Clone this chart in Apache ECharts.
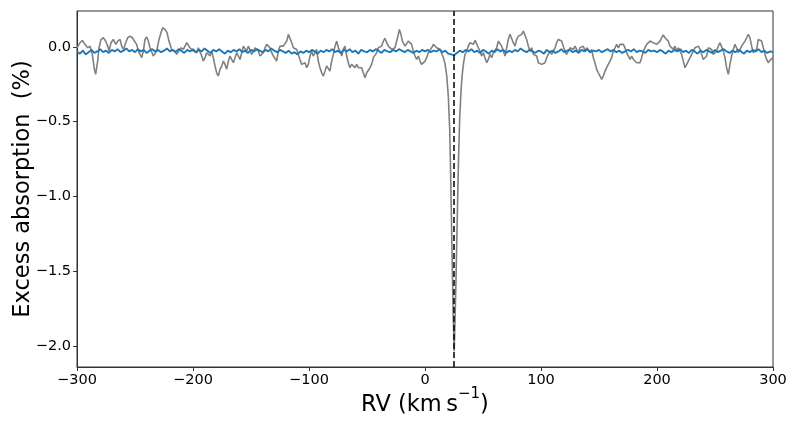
<!DOCTYPE html>
<html>
<head>
<meta charset="utf-8">
<script src="https://cdn.jsdelivr.net/npm/echarts@6/dist/echarts.min.js"></script>
<style>html,body{margin:0;padding:0;background:#fff}#c{width:800px;height:425px}</style>
</head>
<body>
<div id="c"></div>
<script>
// ---- data ----
const xTicks = [-300, -200, -100, 0, 100, 200, 300];
const yTicks = [-2.0, -1.5, -1.0, -0.5, 0.0];
const lineCenterRV = 25.2;

// gray: observed excess absorption [RV, %]
const grayPoints = [
[-300,-0.006],[-298.8,-0.006],[-297.4,0.028],[-295.4,0.043],[-293.1,0.017],[-290.8,-0.006],[-288.8,0.005],[-286.8,-0.050],[-285.0,-0.150],[-283.9,-0.184],
[-282.2,-0.095],[-281.0,-0.006],[-279.3,0.050],[-277.3,0.061],[-275.3,0.039],[-273.5,0.005],[-272.4,-0.028],[-270.7,0.028],[-268.7,0.050],[-266.6,0.017],
[-264.9,0.039],[-262.9,0.050],[-261.5,0.005],[-260.0,-0.017],[-258.0,0.028],[-256.3,0.061],[-254.3,0.072],[-252.3,0.061],[-250.6,0.072],[-248.6,0.017],
[-247.1,-0.028],[-245.7,-0.050],[-244.2,-0.072],[-242.8,-0.028],[-241.4,0.050],[-239.9,0.066],[-238.5,0.039],[-237.1,-0.006],[-235.6,-0.017],[-234.2,-0.061],
[-232.7,-0.072],[-231.3,-0.028],[-229.3,0.050],[-227.6,0.095],[-226.1,0.128],[-224.1,0.117],[-222.4,0.095],[-220.7,0.039],[-218.4,-0.017],[-217.0,-0.028],
[-215.5,-0.028],[-214.1,-0.050],[-212.6,-0.039],[-210.3,-0.006],[-208.3,-0.017],[-206.9,0.005],[-205.4,0.028],[-204.0,0.017],[-202.6,-0.006],[-201.1,0.005],
[-199.7,-0.028],[-198.3,-0.017],[-196.8,-0.039],[-195.4,-0.006],[-194.0,-0.017],[-192.5,-0.061],[-191.1,-0.095],[-189.6,-0.072],[-188.2,-0.039],[-186.8,-0.050],
[-185.3,-0.061],[-183.9,-0.028],[-182.5,-0.072],[-181.0,-0.128],[-179.6,-0.173],[-178.2,-0.195],[-176.7,-0.150],[-175.3,-0.128],[-173.8,-0.095],[-172.4,-0.117],
[-171.0,-0.150],[-169.5,-0.095],[-168.1,-0.061],[-166.7,-0.072],[-165.2,-0.106],[-163.8,-0.072],[-162.3,-0.039],[-160.9,-0.050],[-159.5,-0.084],[-158.0,-0.039],
[-156.6,0.005],[-155.2,-0.006],[-153.7,-0.028],[-152.3,0.005],[-150.9,-0.006],[-149.4,-0.050],[-148.0,-0.039],[-146.5,-0.006],[-145.1,0.005],[-143.7,-0.028],
[-142.2,-0.061],[-140.8,-0.072],[-139.4,-0.039],[-137.9,-0.006],[-136.5,0.017],[-135.1,0.028],[-133.6,-0.006],[-132.2,-0.039],[-130.7,-0.061],[-129.3,-0.072],
[-127.9,-0.095],[-126.4,-0.028],[-125.0,0.005],[-123.6,-0.006],[-122.1,0.005],[-120.7,0.017],[-119.2,0.039],[-117.8,0.084],[-116.4,0.072],[-114.9,0.028],
[-113.5,-0.006],[-112.1,0.005],[-110.6,-0.017],[-109.2,-0.050],[-107.8,-0.084],[-106.3,-0.117],[-104.9,-0.128],[-103.4,-0.106],[-102.0,-0.139],[-100.6,-0.117],
[-99.1,-0.061],[-97.7,-0.028],[-96.3,-0.061],[-94.8,-0.039],[-93.4,-0.017],[-92.0,-0.095],[-90.5,-0.139],[-89.1,-0.173],[-87.6,-0.195],[-86.2,-0.162],
[-84.8,-0.128],[-83.3,-0.139],[-81.9,-0.162],[-80.5,-0.095],[-79.0,-0.050],[-77.6,0.005],[-76.1,0.039],[-74.7,-0.006],[-73.3,-0.028],[-71.8,-0.061],
[-70.4,-0.017],[-69.0,0.005],[-67.5,-0.061],[-66.1,-0.106],[-64.7,-0.139],[-63.2,-0.117],[-61.8,-0.128],[-60.3,-0.139],[-58.9,-0.117],[-57.5,-0.139],
[-56.0,-0.150],[-54.6,-0.139],[-53.2,-0.173],[-51.7,-0.206],[-50.3,-0.173],[-48.9,-0.162],[-47.4,-0.139],[-46.0,-0.117],[-44.5,-0.072],[-43.1,-0.055],
[-41.7,-0.039],[-40.2,-0.006],[-38.8,-0.017],[-37.4,0.005],[-35.9,0.039],[-34.5,0.057],[-33.0,0.028],[-31.6,0.005],[-30.2,-0.006],[-28.7,-0.017],
[-27.3,-0.028],[-25.9,-0.006],[-24.4,0.039],[-23.0,0.084],[-22.1,0.117],[-20.7,0.084],[-19.5,0.039],[-18.4,0.050],[-17.2,0.005],[-15.8,0.017],
[-14.4,0.039],[-12.9,0.050],[-11.5,0.017],[-10.1,-0.028],[-8.6,-0.061],[-7.2,-0.084],[-5.7,-0.061],[-4.3,-0.095],[-2.9,-0.117],[-1.4,-0.106],
[0.0,-0.095],[1.4,-0.072],[2.9,-0.039],[4.3,-0.028],[5.7,-0.006],[7.2,0.017],[8.6,0.028],[10.1,-0.006],[11.5,0.005],[12.9,-0.017],
[14.4,-0.028],[15.8,-0.070],[17.2,-0.110],[18.7,-0.190],[20.1,-0.330],[21.3,-0.550],[22.1,-0.850],[22.8,-1.150],[23.6,-1.500],[24.3,-1.800],
[25.2,-2.035],[25.8,-1.850],[26.6,-1.600],[27.4,-1.300],[28.2,-1.000],[29.0,-0.720],[29.9,-0.480],[31.0,-0.300],[32.0,-0.190],[33.2,-0.110],
[34.5,-0.050],[35.9,-0.028],[37.3,0.005],[38.8,0.028],[40.2,0.039],[41.7,0.017],[43.1,0.045],[44.5,0.039],[46.0,-0.006],[47.4,-0.028],
[48.8,-0.061],[50.3,-0.039],[51.7,-0.072],[53.2,-0.106],[54.6,-0.084],[56.0,-0.050],[57.5,-0.072],[58.9,-0.039],[60.3,-0.050],[61.8,-0.006],
[63.2,0.039],[64.7,0.050],[66.1,0.005],[67.5,-0.028],[69.0,-0.061],[70.4,-0.006],[71.8,0.050],[73.3,0.084],[74.7,0.072],[76.1,0.028],
[77.6,0.005],[79.0,0.050],[80.5,0.072],[81.9,0.061],[83.3,0.084],[84.8,0.106],[86.2,0.095],[87.6,0.050],[89.1,0.005],[90.5,-0.028],
[92.0,-0.006],[93.4,-0.050],[94.8,-0.039],[96.3,-0.061],[97.7,-0.106],[99.1,-0.095],[100.6,-0.117],[102.0,-0.128],[103.4,-0.106],[104.9,-0.072],
[106.3,-0.050],[107.8,-0.028],[109.2,-0.050],[110.6,-0.039],[112.1,-0.006],[113.5,0.028],[114.9,0.050],[116.4,0.061],[117.8,0.039],[119.2,0.005],
[120.7,-0.028],[122.1,-0.050],[123.6,-0.028],[125.0,-0.006],[126.4,0.005],[127.9,-0.017],[129.3,0.005],[130.7,-0.017],[132.2,-0.039],[133.6,-0.006],
[135.1,-0.017],[136.5,0.005],[137.9,-0.028],[139.4,-0.006],[140.8,-0.017],[142.2,-0.039],[143.7,-0.017],[145.1,-0.072],[146.5,-0.106],[148.0,-0.150],
[149.4,-0.173],[150.9,-0.195],[152.3,-0.217],[153.7,-0.195],[155.2,-0.162],[156.6,-0.139],[158.0,-0.117],[159.5,-0.095],[160.9,-0.072],[162.3,-0.028],
[163.8,-0.006],[165.2,0.017],[166.7,-0.006],[168.1,0.017],[169.5,0.028],[171.0,0.017],[172.4,-0.006],[173.8,-0.039],[175.3,-0.061],[176.7,-0.084],
[178.2,-0.061],[179.6,-0.084],[181.0,-0.095],[182.5,-0.106],[183.9,-0.095],[185.3,-0.106],[186.8,-0.072],[188.2,-0.028],[189.6,-0.006],[191.1,0.017],
[192.5,0.028],[194.0,0.039],[195.4,0.050],[196.8,0.028],[198.3,0.039],[199.7,0.017],[201.1,0.028],[202.6,0.039],[204.0,0.061],[205.4,0.080],
[206.9,0.061],[208.3,0.050],[209.7,0.039],[211.2,0.005],[212.6,-0.006],[214.1,-0.017],[215.5,0.005],[216.9,-0.028],[218.4,-0.006],[219.8,-0.017],
[221.2,-0.050],[222.7,-0.095],[224.1,-0.139],[225.6,-0.117],[227.0,-0.095],[228.4,-0.106],[229.9,-0.050],[231.3,-0.028],[232.7,-0.006],[234.2,-0.006],
[235.6,0.005],[237.1,-0.017],[238.5,-0.050],[239.9,-0.084],[241.4,-0.095],[242.8,-0.061],[244.2,-0.006],[245.7,0.005],[247.1,-0.017],[248.5,-0.050],
[250.0,-0.061],[251.4,-0.028],[252.8,0.005],[254.3,0.028],[255.7,0.017],[257.2,-0.028],[258.6,-0.072],[260.0,-0.139],[261.5,-0.184],[262.9,-0.117],
[264.3,-0.061],[265.8,-0.017],[267.2,0.017],[268.6,-0.006],[270.1,-0.039],[271.5,-0.028],[273.0,0.005],[274.4,0.017],[275.8,0.039],[277.3,0.061],
[278.7,0.084],[280.1,0.061],[281.6,0.005],[283.0,-0.039],[284.4,-0.050],[285.9,-0.017],[287.3,0.050],[288.7,0.061],[290.2,0.039],[291.6,-0.006],
[293.1,-0.050],[294.5,-0.084],[295.9,-0.106],[297.4,-0.090],[298.8,-0.080],[300.0,-0.070]
];

// blue: model / comparison, sampled every 2.5 km/s from -300
const blueStart = -300;
const blueStep = 2.5;
const blueVal = [
-0.030,-0.045,-0.025,-0.050,-0.035,-0.020,-0.040,-0.030,-0.015,-0.035,
-0.025,-0.040,-0.020,-0.030,-0.015,-0.035,-0.025,-0.010,-0.030,-0.020,
-0.035,-0.015,-0.030,-0.020,-0.040,-0.025,-0.015,-0.030,-0.020,-0.035,
-0.025,-0.010,-0.030,-0.020,-0.035,-0.015,-0.025,-0.040,-0.020,-0.030,
-0.015,-0.035,-0.020,-0.030,-0.010,-0.025,-0.040,-0.020,-0.030,-0.015,
-0.030,-0.045,-0.025,-0.035,-0.020,-0.030,-0.015,-0.035,-0.025,-0.040,
-0.020,-0.030,-0.015,-0.025,-0.035,-0.020,-0.030,-0.010,-0.025,-0.035,
-0.020,-0.030,-0.040,-0.025,-0.045,-0.035,-0.050,-0.030,-0.040,-0.025,
-0.035,-0.020,-0.030,-0.045,-0.025,-0.035,-0.020,-0.030,-0.015,-0.035,
-0.025,-0.040,-0.020,-0.030,-0.015,-0.035,-0.025,-0.045,-0.020,-0.030,
-0.035,-0.020,-0.030,-0.015,-0.025,-0.040,-0.020,-0.030,-0.035,-0.020,
-0.030,-0.015,-0.025,-0.035,-0.020,-0.030,-0.040,-0.025,-0.035,-0.020,
-0.030,-0.020,-0.035,-0.025,-0.030,-0.015,-0.035,-0.025,-0.045,-0.050,
-0.055,-0.040,-0.025,-0.035,-0.020,-0.030,-0.015,-0.035,-0.025,-0.040,
-0.020,-0.030,-0.045,-0.025,-0.035,-0.015,-0.030,-0.020,-0.040,-0.025,
-0.035,-0.020,-0.030,-0.010,-0.025,-0.035,-0.020,-0.030,-0.040,-0.025,
-0.030,-0.045,-0.020,-0.035,-0.025,-0.040,-0.030,-0.015,-0.035,-0.025,
-0.020,-0.035,-0.025,-0.040,-0.020,-0.030,-0.015,-0.035,-0.025,-0.030,
-0.020,-0.035,-0.025,-0.015,-0.030,-0.020,-0.035,-0.025,-0.040,-0.030,
-0.020,-0.030,-0.015,-0.035,-0.025,-0.030,-0.040,-0.020,-0.030,-0.025,
-0.035,-0.020,-0.030,-0.045,-0.025,-0.035,-0.020,-0.030,-0.015,-0.035,
-0.025,-0.040,-0.020,-0.030,-0.045,-0.025,-0.035,-0.020,-0.030,-0.040,
-0.020,-0.035,-0.025,-0.015,-0.030,-0.040,-0.025,-0.035,-0.020,-0.030,
-0.045,-0.025,-0.035,-0.020,-0.030,-0.015,-0.035,-0.025,-0.040,-0.030,
-0.035
];

const xTitle = '{n|RV (km\u2009s}{sup|\u22121}{n|)}';
const yTitle = 'Excess absorption  (%)';

// ---- chart ----
const blueData = blueVal.map((v, i) => [blueStart + i * blueStep, v]);
const minus = s => String(s).replace('-', '\u2212');
const font = 'DejaVu Sans';

const chart = echarts.init(document.getElementById('c'), null, {renderer: 'canvas'});
chart.setOption({
  animation: false,
  backgroundColor: '#fff',
  grid: {left: 77, right: 27, top: 11, bottom: 58, show: true, borderColor: '#333', borderWidth: 1, backgroundColor: 'transparent', outerBoundsMode: 'none', containLabel: false},
  xAxis: {
    type: 'value', min: -300, max: 300, interval: 100,
    axisLine: {show: true, onZero: false, lineStyle: {color: '#333', width: 1}},
    axisTick: {show: true, length: 4, lineStyle: {color: '#333'}},
    splitLine: {show: false},
    axisLabel: {color: '#000', fontFamily: font, fontSize: 14.5, margin: 6, formatter: v => minus(v)},
    name: xTitle, nameLocation: 'middle', nameGap: 20, nameMoveOverlap: false,
    nameTextStyle: {
      color: '#000', fontFamily: font, fontSize: 22.5,
      rich: {
        n: {fontSize: 22.5, fontFamily: font, color: '#000', lineHeight: 30, verticalAlign: 'bottom'},
        sup: {fontSize: 15, fontFamily: font, color: '#000', lineHeight: 15, verticalAlign: 'top'}
      }
    }
  },
  yAxis: {
    type: 'value', min: -2.14, max: 0.24,
    axisLine: {show: true, onZero: false, lineStyle: {color: '#333', width: 1}},
    axisTick: {show: true, length: 4, lineStyle: {color: '#333'}, customValues: yTicks},
    splitLine: {show: false},
    axisLabel: {color: '#000', fontFamily: font, fontSize: 14.5, margin: 6, customValues: yTicks, formatter: v => minus(v.toFixed(1))},
    name: yTitle, nameLocation: 'middle', nameGap: 42, nameRotate: 90, nameMoveOverlap: false,
    nameTextStyle: {color: '#000', fontFamily: font, fontSize: 22.5}
  },
  series: [
    {
      type: 'line', data: grayPoints, showSymbol: false, symbol: 'none',
      lineStyle: {color: '#808080', width: 1.6}, z: 2,
      markLine: {
        silent: true, symbol: ['none', 'none'], label: {show: false},
        lineStyle: {color: '#000', width: 1.5, type: [6, 3]},
        data: [{xAxis: lineCenterRV}]
      }
    },
    {
      type: 'line', data: blueData, showSymbol: false, symbol: 'none',
      lineStyle: {color: '#1f77b4', width: 1.9}, z: 3
    }
  ]
});
</script>
</body>
</html>
